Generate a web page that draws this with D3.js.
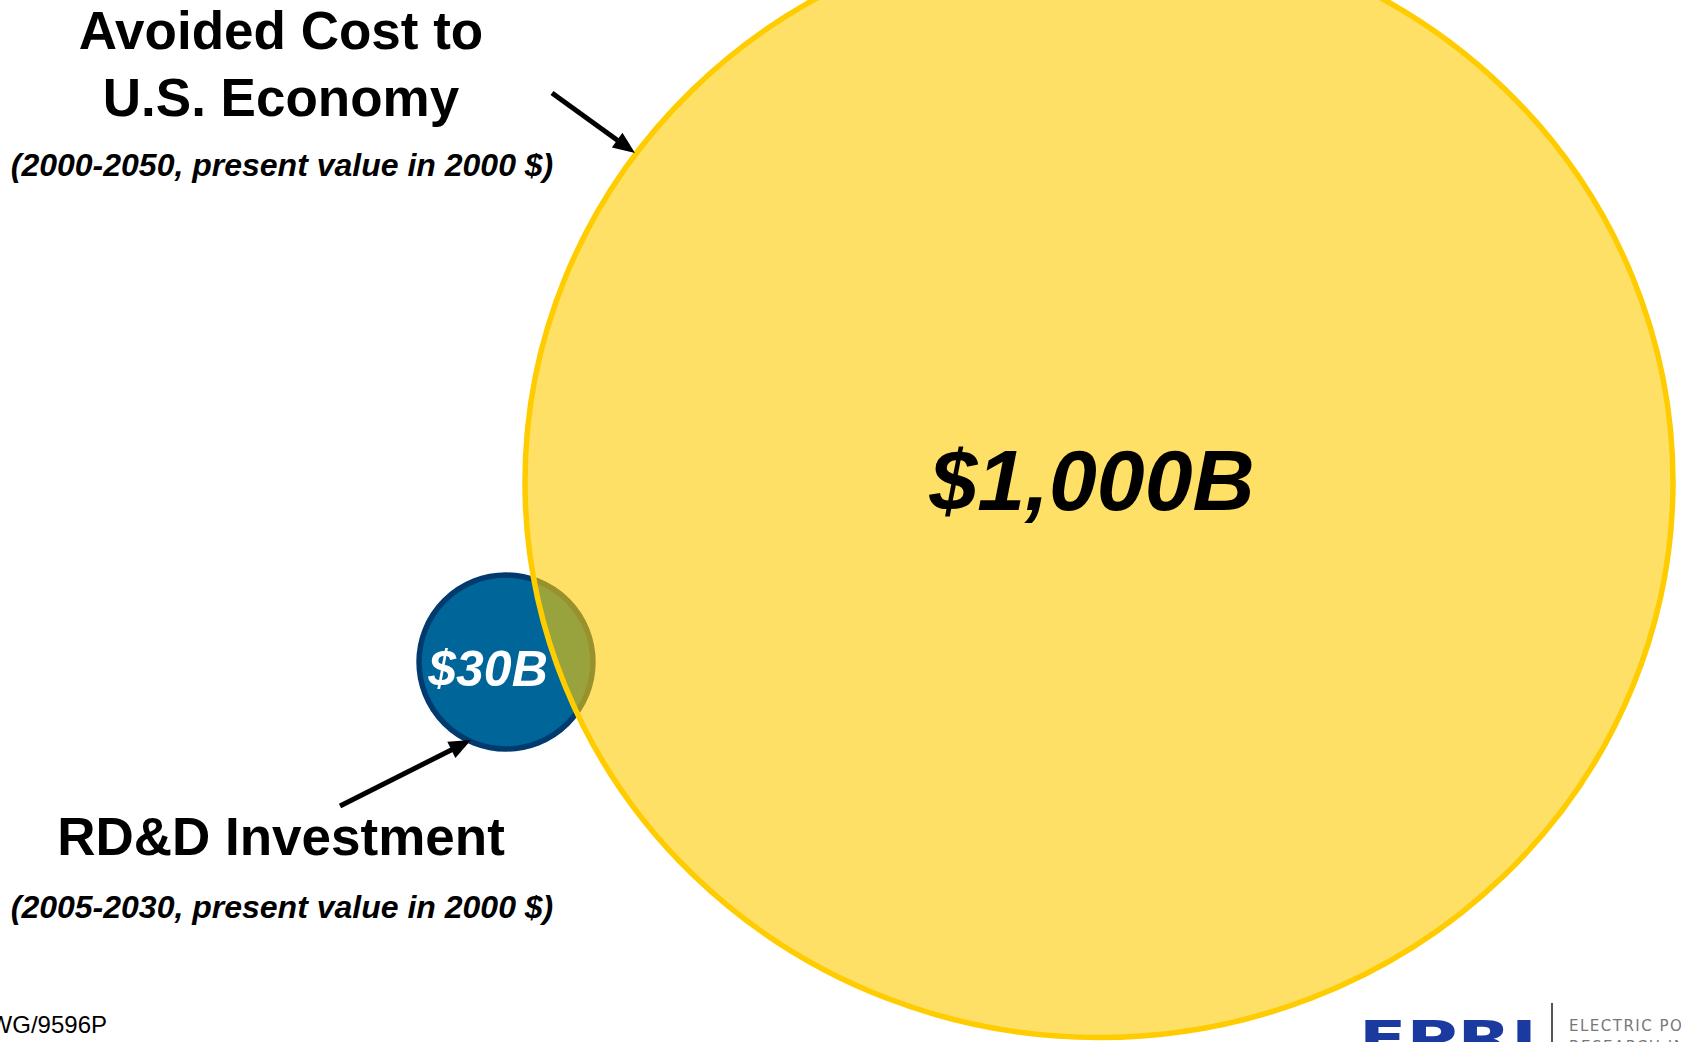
<!DOCTYPE html>
<html>
<head>
<meta charset="utf-8">
<script src="https://cdn.jsdelivr.net/npm/d3@7"></script>
<style>
  body { margin: 0; background: #ffffff; overflow: hidden; }
  svg { display: block; }
</style>
</head>
<body>
<svg id="chart"></svg>
<script>
// Données
const categories = ["RD&D Investment", "Avoided Cost to U.S. Economy"]
const values = [30, 1000]
const valueLabels = ["$30B", "$1,000B"]
const subtitles = ["(2005-2030, present value in 2000 $)", "(2000-2050, present value in 2000 $)"]

const width = 1681
const height = 1042

// mise en page (pas des données)
const layout = [
    {cx : 506, cy : 662, fill : "#006699", stroke : "#003a6e", opacity : 1, labelDx : -18, labelDy : 24, labelSize : 50, labelColor : "#ffffff"},
    {cx : 1099, cy : 482, fill : "#ffcc00", stroke : "#ffcc00", opacity : 0.6, labelDx : -7, labelDy : 28, labelSize : 86, labelColor : "#000000"}
]
const squash = 0.968 // la grande forme est un peu aplatie

const svg = d3.select("#chart").attr("width", width).attr("height", height)

const rScale = d3.scalePow().exponent(0.53).domain([0, d3.max(values)]).range([0, 577])

const data = categories.map((c, i) => ({category : c, value : values[i], label : valueLabels[i], sub : subtitles[i], ...layout[i]}))

// Cercles
svg.selectAll("ellipse.bubble")
    .data(data)
    .join("ellipse")
    .attr("class", "bubble")
    .attr("cx", d => d.cx)
    .attr("cy", d => d.cy)
    .attr("rx", d => rScale(d.value) - 3)
    .attr("ry", d => d.value === d3.max(values) ? rScale(d.value) * squash - 3 : rScale(d.value) - 3)
    .style("fill", d => d.fill)
    .style("fill-opacity", d => d.opacity)
    .style("stroke", d => d.stroke)
    .style("stroke-width", 5.5)

// Valeurs
svg.selectAll("text.value")
    .data(data)
    .join("text")
    .attr("class", "value")
    .attr("x", d => d.cx + d.labelDx)
    .attr("y", d => d.cy + d.labelDy)
    .attr("text-anchor", "middle")
    .style("font-family", "Liberation Sans, Arial, sans-serif")
    .style("font-weight", "bold")
    .style("font-style", "italic")
    .style("font-size", d => d.labelSize + "px")
    .style("fill", d => d.labelColor)
    .text(d => d.label)

// Titres
const titles = [
    {lines : ["RD&D Investment"], y : 855, subY : 918},
    {lines : ["Avoided Cost to", "U.S. Economy"], y : 49, subY : 176}
]

titles.forEach((t, i) => {
    const g = svg.append("g")
    t.lines.forEach((l, j) => {
        g.append("text")
            .attr("x", 281)
            .attr("y", t.y + j * 67)
            .attr("text-anchor", "middle")
            .style("font-family", "Liberation Sans, Arial, sans-serif")
            .style("font-weight", "bold")
            .style("font-size", "53px")
            .style("fill", "#000")
            .text(l)
    })
    g.append("text")
        .attr("x", 282)
        .attr("y", t.subY)
        .attr("text-anchor", "middle")
        .style("font-family", "Liberation Sans, Arial, sans-serif")
        .style("font-weight", "bold")
        .style("font-style", "italic")
        .style("font-size", "32px")
        .style("fill", "#000")
        .text(data[i].sub)
})

// Flèches
const arrows = [
    {x1 : 340, y1 : 806, x2 : 471, y2 : 740},
    {x1 : 552, y1 : 93, x2 : 635, y2 : 153}
]

arrows.forEach(a => {
    const ang = Math.atan2(a.y2 - a.y1, a.x2 - a.x1)
    const len = 22, half = 9
    const bx = a.x2 - len * Math.cos(ang), by = a.y2 - len * Math.sin(ang)
    svg.append("line")
        .attr("x1", a.x1).attr("y1", a.y1)
        .attr("x2", bx + 2 * Math.cos(ang)).attr("y2", by + 2 * Math.sin(ang))
        .style("stroke", "#000")
        .style("stroke-width", 5)
    svg.append("polygon")
        .attr("points", [
            [a.x2, a.y2],
            [bx - half * Math.sin(ang), by + half * Math.cos(ang)],
            [bx + half * Math.sin(ang), by - half * Math.cos(ang)]
        ].map(p => p.join(",")).join(" "))
        .style("fill", "#000")
})

// Pied de page
svg.append("text")
    .attr("x", 107)
    .attr("y", 1033)
    .attr("text-anchor", "end")
    .style("font-family", "Liberation Sans, Arial, sans-serif")
    .style("font-size", "24px")
    .style("fill", "#000")
    .text("DWG/9596P")

svg.append("text")
    .attr("x", 1359)
    .attr("y", 1056)
    .attr("textLength", 178)
    .attr("lengthAdjust", "spacingAndGlyphs")
    .style("font-family", "DejaVu Sans, sans-serif")
    .style("font-weight", "bold")
    .style("font-size", "50px")
    .style("fill", "#1b3aa0")
    .text("EPRI")

svg.append("line")
    .attr("x1", 1552).attr("y1", 1003)
    .attr("x2", 1552).attr("y2", height)
    .style("stroke", "#555")
    .style("stroke-width", 2)

svg.append("text")
    .attr("x", 1569)
    .attr("y", 1031)
    .style("font-family", "DejaVu Sans, sans-serif")
    .style("font-size", "15px")
    .style("letter-spacing", "1.5px")
    .style("fill", "#777")
    .text("ELECTRIC POWER")

svg.append("text")
    .attr("x", 1569)
    .attr("y", 1052)
    .style("font-family", "DejaVu Sans, sans-serif")
    .style("font-size", "15px")
    .style("letter-spacing", "1.5px")
    .style("fill", "#777")
    .text("RESEARCH INSTITUTE")
</script>
</body>
</html>
